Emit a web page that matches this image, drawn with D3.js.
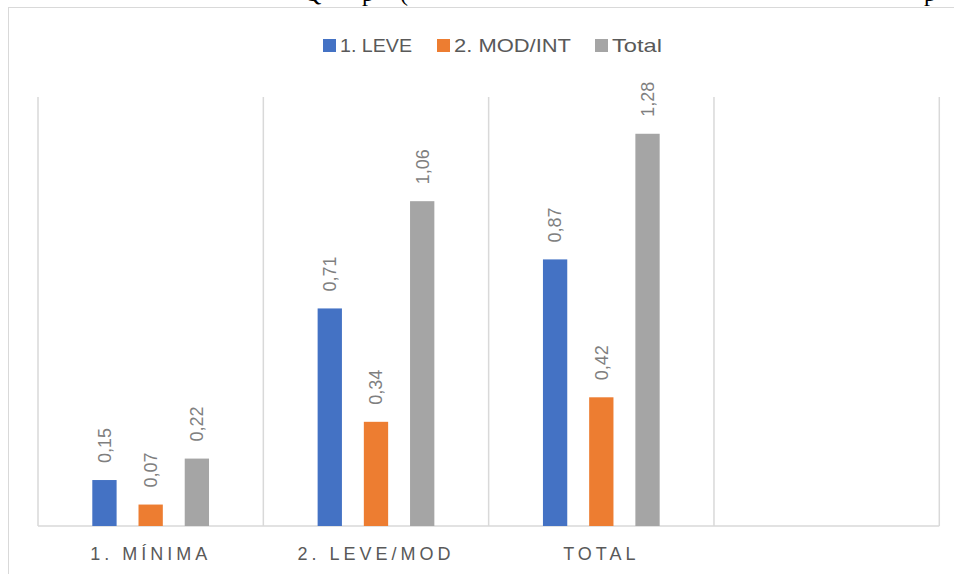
<!DOCTYPE html>
<html>
<head>
<meta charset="utf-8">
<script src="https://cdn.jsdelivr.net/npm/d3@7/dist/d3.min.js"></script>
<style>
  html, body { margin: 0; padding: 0; background: #fff; }
  svg { display: block; }
</style>
</head>
<body>
<script>
// Categories along the x axis (the last group is an empty slot)
const categories = ["1. MÍNIMA", "2. LEVE/MOD", "TOTAL", ""];
// Series names and colours
const seriesNames = ["1. LEVE", "2. MOD/INT", "Total"];
const seriesColors = ["#4472C4", "#ED7D31", "#A5A5A5"];
// Values per series, one per category (null = no bar)
const leve   = [0.15, 0.71, 0.87, null];
const modInt = [0.07, 0.34, 0.42, null];
const total  = [0.22, 1.06, 1.28, null];
const seriesValues = [leve, modInt, total];
const yMax = 1.4;

const W = 954, H = 574;
const svg = d3.select("body").append("svg").attr("width", W).attr("height", H);

// Partially visible heading line above the chart frame
const headFrag = [["Q", 304], ["p", 362], ["(", 400], ["p", 924]];
svg.selectAll("text.head").data(headFrag).join("text")
  .attr("class", "head")
  .attr("x", d => d[1]).attr("y", 1)
  .attr("font-family", "Liberation Serif, serif")
  .attr("font-size", 24).attr("fill", "#000")
  .text(d => d[0]);

// Chart frame
svg.append("rect")
  .attr("x", 8.5).attr("y", 7.5)
  .attr("width", W).attr("height", H)
  .attr("fill", "#fff").attr("stroke", "#d9d9d9").attr("stroke-width", 1);

const plot = { left: 38, right: 939.3, top: 97, bottom: 526 };

const x = d3.scaleBand().domain(categories).range([plot.left, plot.right]).padding(0);
const xs = d3.scaleBand().domain(seriesNames).range([0, x.bandwidth()])
  .paddingInner(0.474).paddingOuter(1.175);
const y = d3.scaleLinear().domain([0, yMax]).range([plot.bottom, plot.top]);

// Vertical separators between categories
const bounds = categories.map(c => x(c)).concat([plot.right]);
svg.selectAll("line.grid").data(bounds).join("line")
  .attr("class", "grid")
  .attr("x1", d => d).attr("x2", d => d)
  .attr("y1", y(yMax)).attr("y2", y(0))
  .attr("stroke", "#d9d9d9").attr("stroke-width", 1.5);

// Baseline
svg.append("line")
  .attr("x1", plot.left).attr("x2", plot.right)
  .attr("y1", y(0)).attr("y2", y(0))
  .attr("stroke", "#d9d9d9").attr("stroke-width", 1.5);

// Bars and rotated value labels
const fmt = v => d3.format(".2f")(v).replace(".", ",");
seriesNames.forEach((s, si) => {
  const pts = categories.map((c, ci) => ({ c, v: seriesValues[si][ci] })).filter(d => d.v != null);
  const g = svg.append("g");
  g.selectAll("rect").data(pts).join("rect")
    .attr("x", d => x(d.c) + xs(s))
    .attr("y", d => y(d.v))
    .attr("width", xs.bandwidth())
    .attr("height", d => y(0) - y(d.v))
    .attr("fill", seriesColors[si]);
  g.selectAll("text").data(pts).join("text")
    .attr("transform", d => `translate(${x(d.c) + xs(s) + xs.bandwidth() / 2},${y(d.v) - 17}) rotate(-90)`)
    .attr("dy", "0.35em")
    .attr("text-anchor", "start")
    .attr("font-family", "Liberation Sans, Arial, sans-serif")
    .attr("font-size", 18)
    .attr("fill", "#7f7f7f")
    .text(d => fmt(d.v));
});

// Category axis labels
const xAxis = d3.axisBottom(x).tickSize(0).tickPadding(0);
const ax = svg.append("g").attr("transform", `translate(0,${y(0)})`).call(xAxis);
ax.select(".domain").remove();
ax.selectAll("text")
  .attr("y", 21)
  .attr("font-family", "Liberation Sans, Arial, sans-serif")
  .attr("font-size", 18)
  .attr("letter-spacing", "4px")
  .attr("fill", "#595959");

// Legend
const legendItems = [
  { name: seriesNames[0], color: seriesColors[0], x: 323, w: 72 },
  { name: seriesNames[1], color: seriesColors[1], x: 437, w: 117 },
  { name: seriesNames[2], color: seriesColors[2], x: 595, w: 50 }
];
const lg = svg.append("g");
lg.selectAll("rect").data(legendItems).join("rect")
  .attr("x", d => d.x).attr("y", 39).attr("width", 13).attr("height", 13)
  .attr("fill", d => d.color);
lg.selectAll("text").data(legendItems).join("text")
  .attr("x", d => d.x + 17).attr("y", 52)
  .attr("font-family", "Liberation Sans, Arial, sans-serif")
  .attr("font-size", 19)
  .attr("textLength", d => d.w)
  .attr("lengthAdjust", "spacingAndGlyphs")
  .attr("fill", "#595959")
  .text(d => d.name);
</script>
</body>
</html>
